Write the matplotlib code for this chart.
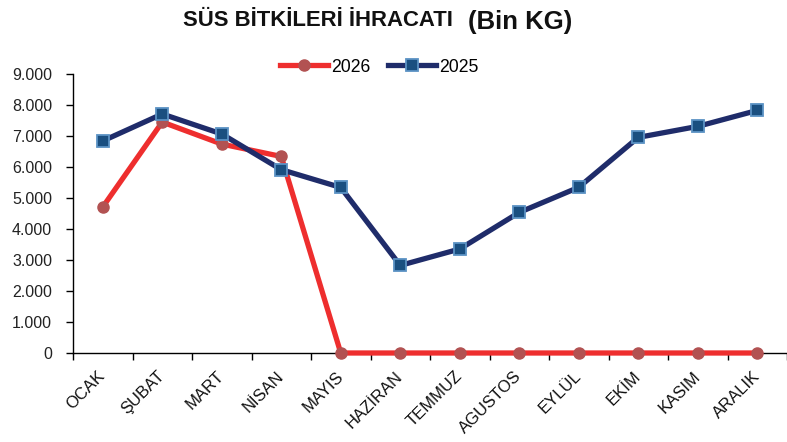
import matplotlib
matplotlib.use("Agg")
import matplotlib.pyplot as plt
from matplotlib.ticker import FixedLocator, FuncFormatter

plt.rcParams['font.family'] = ['Liberation Sans', 'DejaVu Sans']

months = ["OCAK", "ŞUBAT", "MART", "NİSAN", "MAYIS", "HAZİRAN", "TEMMUZ",
          "AGUSTOS", "EYLÜL", "EKİM", "KASIM", "ARALIK"]
s2026 = [4710, 7450, 6740, 6340, 0, 0, 0, 0, 0, 0, 0, 0]
s2025 = [6840, 7710, 7065, 5915, 5340, 2825, 3355, 4535, 5345, 6955, 7310, 7825]
yticks = [0, 1000, 2000, 3000, 4000, 5000, 6000, 7000, 8000, 9000]

W, H = 787, 442
fig = plt.figure(figsize=(W / 100, H / 100), dpi=100)
ax = fig.add_axes([73 / W, 1 - 353 / H, (787 - 73) / W, (353 - 74) / H])

x = list(range(len(months)))
ax.plot(x, s2026, color='#EE2E2E', lw=3.8, marker='o', ms=8,
        mfc='#B25252', mec='#B25252', label='2026', zorder=3,
        solid_joinstyle='round', clip_on=False)
ax.plot(x, s2025, color='#1F2C6A', lw=3.8, marker='s', ms=8,
        mfc='#1A4F80', mec='#5B92C4', mew=1.3, label='2025', zorder=4,
        solid_joinstyle='round', clip_on=False)

ax.set_ylim(0, 9000)
ax.set_xlim(-0.5, -0.5 + (787 - 73) / 60.2)
ax.yaxis.set_major_locator(FixedLocator(yticks))
ax.yaxis.set_major_formatter(FuncFormatter(lambda v, p: f"{int(v):,}".replace(",", ".")))
ax.set_xticks(x)
ax.set_xticklabels(months, rotation=45, ha='right', va='center',
                   rotation_mode='anchor', fontsize=12, color='#111111')
ax.tick_params(axis='x', which='major', length=0, pad=15)
ax.set_xticks([i - 0.5 for i in range(13)], minor=True)
ax.tick_params(axis='x', which='minor', length=5, width=1, direction='out', color='black')
ax.tick_params(axis='y', length=5, width=1, direction='out', labelsize=11.5, pad=10, colors='black')
for lbl in ax.get_yticklabels():
    lbl.set_color('#222222')

for side in ['top', 'right']:
    ax.spines[side].set_visible(False)
for side in ['left', 'bottom']:
    ax.spines[side].set_color('black')
    ax.spines[side].set_linewidth(1)

fig.text(183 / W, 1 - 20.5 / H, "SÜS BİTKİLERİ İHRACATI", fontsize=15.9, fontweight='bold',
         ha='left', va='center', color='#111111')
fig.text(468 / W, 1 - 22.5 / H, "(Bin KG)", fontsize=18.5, fontweight='bold',
         ha='left', va='center', color='#111111')

leg = fig.legend(loc='center', bbox_to_anchor=(379 / W, 1 - 67 / H), ncol=2, frameon=False,
                 fontsize=12.7, handlelength=2.75, columnspacing=1.0, handletextpad=0.15,
                 borderpad=0, borderaxespad=0)

fig.savefig("out.png", dpi=100)
